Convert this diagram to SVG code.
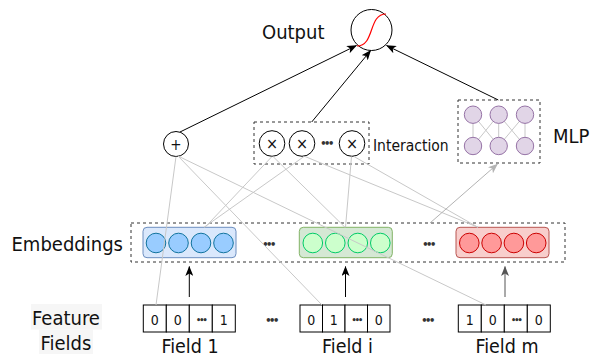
<svg xmlns="http://www.w3.org/2000/svg" width="590" height="358" viewBox="0 0 590 358">
  <defs>
    <style>
      text { font-family: "DejaVu Sans Condensed", "DejaVu Sans", sans-serif; fill: #111; }
      .lbl { font-size: 20px; }
      .fld { font-size: 19.5px; text-anchor: middle; }
      .sm { font-size: 15.5px; }
      .dig { font-size: 14px; text-anchor: middle; }
      .dots { font-size: 9px; letter-spacing: -2px; text-anchor: middle; font-weight: bold; fill: #333; }
      .bigdots { font-size: 11px; letter-spacing: -2.5px; text-anchor: middle; font-weight: bold; fill: #333; }
      .op { fill: #fff; stroke: #000; stroke-width: 1; }
      .dash { fill: none; stroke: #333; stroke-width: 1; stroke-dasharray: 3 3; }
      .cell { fill: #fff; stroke: #000; stroke-width: 1; }
      .gray { stroke: #c8c8c8; stroke-width: 1; fill: none; }
      .blk { stroke: #000; stroke-width: 1; fill: none; }
      .mlpc { fill: #e1d5e7; stroke: #9673a6; stroke-width: 1; }
      .blueg { fill: #dae8fc; stroke: #6c8ebf; }
      .bluec { fill: #99ccff; stroke: #10739e; }
      .greeng { fill: #d5e8d4; stroke: #82b366; }
      .greenc { fill: #ccffcc; stroke: #00cc66; }
      .redg { fill: #f8cecc; stroke: #b85450; }
      .redc { fill: #ff9999; stroke: #cc0000; }
    </style>
    <marker id="ah" markerUnits="userSpaceOnUse" markerWidth="10" markerHeight="8" refX="9.5" refY="4" orient="auto">
      <path d="M0,0 L10,4 L0,8 L2.5,4 z" fill="#000"/>
    </marker>
    <marker id="ahd" markerUnits="userSpaceOnUse" markerWidth="10" markerHeight="8" refX="9.5" refY="4" orient="auto">
      <path d="M0,0 L10,4 L0,8 L2.5,4 z" fill="#555"/>
    </marker>
    <marker id="ahg" markerUnits="userSpaceOnUse" markerWidth="10" markerHeight="8" refX="9.5" refY="4" orient="auto">
      <path d="M0,0 L10,4 L0,8 L2.5,4 z" fill="#b3b3b3"/>
    </marker>
  </defs>

  <rect width="590" height="358" fill="#fff"/>

  <!-- output unit with sigmoid -->
  <g id="output">
    <circle cx="371.5" cy="30" r="20.5" class="op"/>
    <path d="M357,46 C375,46 368,14 386,14" fill="none" stroke="#ff0000" stroke-width="1.2"/>
    <text x="262" y="39" class="lbl">Output</text>
  </g>

  <!-- first-order sum -->
  <g id="sum">
    <circle cx="176" cy="144" r="12.5" class="op"/>
    <text x="176" y="149.5" font-size="15" text-anchor="middle">+</text>
  </g>

  <!-- pairwise interaction block -->
  <g id="interaction">
    <rect x="254" y="122" width="115" height="42" class="dash"/>
    <circle cx="272" cy="143.5" r="12.8" class="op"/>
    <circle cx="302" cy="143.5" r="12.8" class="op"/>
    <circle cx="352" cy="143.5" r="12.8" class="op"/>
    <text x="272" y="149" font-size="16" text-anchor="middle">×</text>
    <text x="302" y="149" font-size="16" text-anchor="middle">×</text>
    <text x="352" y="149" font-size="16" text-anchor="middle">×</text>
    <text x="326" y="147" class="bigdots">•••</text>
    <text x="373" y="151" class="sm">Interaction</text>
  </g>

  <!-- MLP block -->
  <g id="mlp">
    <rect x="458" y="100" width="82" height="63" class="dash"/>
    <g stroke="#c8c8c8" stroke-width="1">
      <line x1="473" y1="114.7" x2="473" y2="146"/>
      <line x1="498.7" y1="114.7" x2="498.7" y2="146"/>
      <line x1="525" y1="114.7" x2="525" y2="146"/>
      <line x1="473" y1="114.7" x2="498.7" y2="146"/>
      <line x1="498.7" y1="114.7" x2="473" y2="146"/>
      <line x1="498.7" y1="114.7" x2="525" y2="146"/>
      <line x1="525" y1="114.7" x2="498.7" y2="146"/>
    </g>
    <circle cx="473" cy="114.7" r="8.7" class="mlpc"/>
    <circle cx="498.7" cy="114.7" r="8.7" class="mlpc"/>
    <circle cx="525" cy="114.7" r="8.7" class="mlpc"/>
    <circle cx="473" cy="146" r="8.7" class="mlpc"/>
    <circle cx="498.7" cy="146" r="8.7" class="mlpc"/>
    <circle cx="525" cy="146" r="8.7" class="mlpc"/>
    <text x="553" y="143" class="lbl" font-size="19">MLP</text>
  </g>

  <!-- embedding layer -->
  <g id="embeddings">
    <rect x="131" y="223" width="434" height="39" class="dash"/>
    <text x="11.5" y="251" class="lbl">Embeddings</text>
    <text x="268" y="247.5" class="bigdots">•••</text>
    <text x="428" y="247.5" class="bigdots">•••</text>
  </g>
  <g id="emb-1">
    <rect x="143" y="227.3" width="93" height="30.4" rx="4" class="blueg"/>
    <circle cx="156" cy="243" r="9.8" class="bluec"/>
    <circle cx="178.5" cy="243" r="9.8" class="bluec"/>
    <circle cx="201" cy="243" r="9.8" class="bluec"/>
    <circle cx="223.5" cy="243" r="9.8" class="bluec"/>
  </g>
  <g id="emb-i">
    <rect x="299.3" y="227.3" width="93" height="30.4" rx="4" class="greeng"/>
    <circle cx="312.8" cy="243" r="9.8" class="greenc"/>
    <circle cx="335.3" cy="243" r="9.8" class="greenc"/>
    <circle cx="357.8" cy="243" r="9.8" class="greenc"/>
    <circle cx="380.3" cy="243" r="9.8" class="greenc"/>
  </g>
  <g id="emb-m">
    <rect x="456" y="227.3" width="93" height="30.4" rx="4" class="redg"/>
    <circle cx="469.3" cy="243" r="9.8" class="redc"/>
    <circle cx="491.6" cy="243" r="9.8" class="redc"/>
    <circle cx="513.9" cy="243" r="9.8" class="redc"/>
    <circle cx="536.2" cy="243" r="9.8" class="redc"/>
  </g>

  <!-- sparse one-hot feature fields -->
  <g id="feature-label">
    <rect x="31" y="304" width="71" height="25.5" fill="#f6f6f6"/>
    <rect x="39" y="329.5" width="54" height="24.5" fill="#f6f6f6"/>
    <text x="66" y="325" class="lbl" text-anchor="middle">Feature</text>
    <text x="66" y="350" class="lbl" text-anchor="middle">Fields</text>
  </g>
  <g id="field-1">
    <rect x="143.3" y="305" width="23" height="27" class="cell"/>
    <rect x="166.3" y="305" width="23" height="27" class="cell"/>
    <rect x="189.3" y="305" width="23" height="27" class="cell"/>
    <rect x="212.3" y="305" width="23" height="27" class="cell"/>
    <text x="154.8" y="325" class="dig">0</text>
    <text x="177.8" y="325" class="dig">0</text>
    <text x="200.8" y="322.5" class="dots">•••</text>
    <text x="223.8" y="325" class="dig">1</text>
    <text x="190" y="353" class="fld">Field 1</text>
  </g>
  <g id="field-i">
    <rect x="300" y="305" width="22.5" height="27" class="cell"/>
    <rect x="322.5" y="305" width="22.5" height="27" class="cell"/>
    <rect x="345" y="305" width="22.5" height="27" class="cell"/>
    <rect x="367.5" y="305" width="22.5" height="27" class="cell"/>
    <text x="311.3" y="325" class="dig">0</text>
    <text x="333.8" y="325" class="dig">1</text>
    <text x="356.3" y="322.5" class="dots">•••</text>
    <text x="378.8" y="325" class="dig">0</text>
    <text x="347.5" y="353" class="fld">Field i</text>
  </g>
  <g id="field-m">
    <rect x="458.3" y="305" width="23" height="27" class="cell"/>
    <rect x="481.3" y="305" width="23" height="27" class="cell"/>
    <rect x="504.3" y="305" width="23" height="27" class="cell"/>
    <rect x="527.3" y="305" width="23" height="27" class="cell"/>
    <text x="469.8" y="325" class="dig">1</text>
    <text x="492.8" y="325" class="dig">0</text>
    <text x="515.8" y="322.5" class="dots">•••</text>
    <text x="538.8" y="325" class="dig">0</text>
    <text x="507" y="353" class="fld">Field m</text>
  </g>
  <g id="field-dots">
    <text x="271" y="324" class="bigdots">•••</text>
    <text x="427" y="324" class="bigdots">•••</text>
  </g>

  <!-- connectors -->
  <g id="connectors">
    <!-- first-order links from raw features -->
    <line x1="176" y1="156.5" x2="156" y2="305" class="gray"/>
    <line x1="178" y1="156" x2="322" y2="305" class="gray"/>
    <line x1="178" y1="156" x2="486" y2="305" class="gray"/>
    <!-- pairwise links from embeddings -->
    <line x1="272" y1="156.5" x2="205" y2="227.3" class="gray"/>
    <line x1="273" y1="156.5" x2="345" y2="227.3" class="gray"/>
    <line x1="304" y1="156.5" x2="204" y2="227.3" class="gray"/>
    <line x1="305" y1="156.5" x2="478" y2="227.3" class="gray"/>
    <line x1="351.5" y1="156.5" x2="345.5" y2="227.3" class="gray"/>
    <line x1="354" y1="156.5" x2="478" y2="227.3" class="gray"/>
    <!-- embeddings to MLP -->
    <line x1="430" y1="223" x2="497.5" y2="164" stroke="#b3b3b3" stroke-width="1" marker-end="url(#ahg)"/>
    <!-- lookups -->
    <line x1="189.3" y1="297" x2="189.3" y2="266.5" class="blk" marker-end="url(#ah)"/>
    <line x1="345.5" y1="297" x2="345.5" y2="266.5" class="blk" marker-end="url(#ah)"/>
    <line x1="505" y1="297" x2="505" y2="266.5" stroke="#555" stroke-width="1" marker-end="url(#ahd)"/>
    <!-- into the output unit -->
    <line x1="180" y1="132" x2="356.5" y2="45.5" class="blk" marker-end="url(#ah)"/>
    <line x1="311.7" y1="122" x2="370.7" y2="50.5" class="blk" marker-end="url(#ah)"/>
    <line x1="498.3" y1="100" x2="386.5" y2="45.5" class="blk" marker-end="url(#ah)"/>
  </g>
</svg>
